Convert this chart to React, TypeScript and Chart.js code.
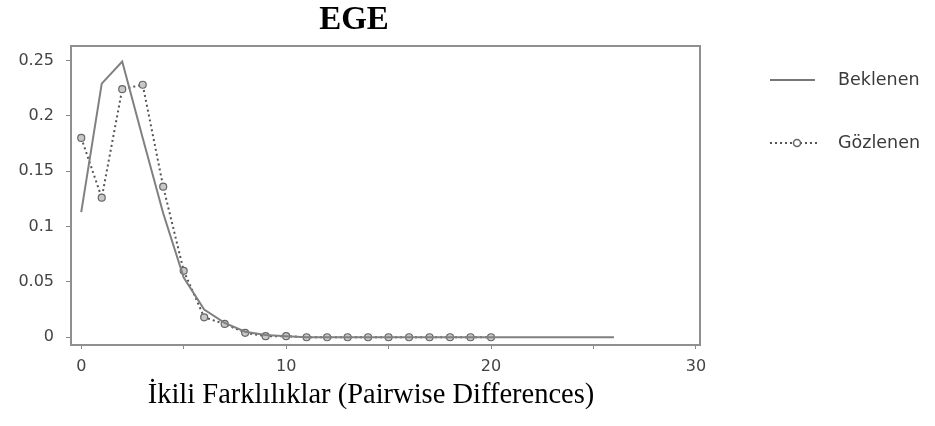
import React, { useEffect, useRef } from "react";
import { Chart, registerables } from "chart.js";

Chart.register(...registerables);

const titleText = "EGE";
const xAxisTitle = "İkili Farklılıklar (Pairwise Differences)";
const seriesNames = ["Beklenen", "Gözlenen"];

const expectedX = [0, 1, 2, 3, 4, 5, 6, 7, 8, 9, 10, 11, 12, 13, 14, 15, 16, 17, 18, 19, 20, 21, 22, 23, 24, 25, 26];
const expectedY = [0.113, 0.229, 0.249, 0.18, 0.112, 0.054, 0.025, 0.013, 0.005, 0.002, 0.001, 0, 0, 0, 0, 0, 0, 0, 0, 0, 0, 0, 0, 0, 0, 0, 0];

const observedX = [0, 1, 2, 3, 4, 5, 6, 7, 8, 9, 10, 11, 12, 13, 14, 15, 16, 17, 18, 19, 20];
const observedY = [0.18, 0.126, 0.224, 0.228, 0.136, 0.06, 0.018, 0.012, 0.004, 0.001, 0.001, 0, 0, 0, 0, 0, 0, 0, 0, 0, 0];

const xTickValues = [0, 5, 10, 15, 20, 25, 30];
const xTickLabels = ["0", "", "10", "", "20", "", "30"];
const yTickValues = [0, 0.05, 0.1, 0.15, 0.2, 0.25];
const yTickLabels = ["0", "0.05", "0.1", "0.15", "0.2", "0.25"];

const tickFont = { size: 16, family: "'DejaVu Sans', sans-serif" };

const decorPlugin = {
  id: "decor",
  afterDraw(chart: any) {
    const ctx = chart.ctx;
    const a = chart.chartArea;
    ctx.save();
    // frame
    ctx.strokeStyle = "#8f8f8f";
    ctx.lineWidth = 2;
    ctx.strokeRect(a.left, a.top, a.right - a.left, a.bottom - a.top);
    // title
    ctx.fillStyle = "#000";
    ctx.textAlign = "center";
    ctx.textBaseline = "alphabetic";
    ctx.font = "bold 33px 'Liberation Serif', serif";
    ctx.fillText(titleText, 354, 29);
    ctx.font = "28.5px 'Liberation Serif', serif";
    ctx.fillText(xAxisTitle, 371, 403);
    // legend
    ctx.textAlign = "left";
    ctx.textBaseline = "middle";
    ctx.font = "17.5px 'DejaVu Sans', sans-serif";
    ctx.fillStyle = "#3a3a3a";
    ctx.strokeStyle = "#777";
    ctx.lineWidth = 2;
    ctx.beginPath();
    ctx.moveTo(770, 80);
    ctx.lineTo(815, 80);
    ctx.stroke();
    ctx.fillText(seriesNames[0], 838, 80);
    ctx.setLineDash([2, 3]);
    ctx.strokeStyle = "#555";
    ctx.beginPath();
    ctx.moveTo(770, 143);
    ctx.lineTo(820, 143);
    ctx.stroke();
    ctx.setLineDash([]);
    ctx.beginPath();
    ctx.arc(797, 143, 3.5, 0, Math.PI * 2);
    ctx.fillStyle = "#fff";
    ctx.fill();
    ctx.strokeStyle = "#666";
    ctx.lineWidth = 1.5;
    ctx.stroke();
    ctx.fillStyle = "#3a3a3a";
    ctx.fillText(seriesNames[1], 838, 143);
    ctx.restore();
  },
};

export default function App() {
  const ref = useRef<HTMLCanvasElement | null>(null);
  useEffect(() => {
    document.body.style.margin = "0";
    const canvas = ref.current!;
    const chart = new Chart(canvas, {
      type: "line",
      data: {
        datasets: [
          {
            label: seriesNames[0],
            data: expectedX.map((x, i) => ({ x, y: expectedY[i] })),
            borderColor: "#808080",
            borderWidth: 2,
            pointRadius: 0,
            tension: 0,
          },
          {
            label: seriesNames[1],
            data: observedX.map((x, i) => ({ x, y: observedY[i] })),
            borderColor: "#555",
            borderWidth: 2,
            borderDash: [2, 3],
            pointRadius: 3.5,
            pointBackgroundColor: "#c8c8c8",
            pointBorderColor: "#666",
            pointBorderWidth: 1.2,
            tension: 0,
          },
        ],
      },
      options: {
        responsive: false,
        animation: false,
        devicePixelRatio: 1,
        layout: { padding: { left: 0, right: 235, top: 46, bottom: 0 } },
        plugins: {
          legend: { display: false },
          title: { display: false },
          tooltip: { enabled: false },
        },
        scales: {
          x: {
            type: "linear",
            min: -0.5,
            max: 30.2,
            grid: { display: true, drawOnChartArea: false, tickLength: 4, color: "#888" },
            border: { display: false },
            afterBuildTicks: (s: any) => {
              s.ticks = xTickValues.map((v) => ({ value: v }));
            },
            afterFit: (s: any) => {
              s.height = 81;
            },
            ticks: {
              padding: 8,
              maxRotation: 0,
              autoSkip: false,
              color: "#444",
              font: tickFont,
              callback: (v: any) => {
                const i = xTickValues.indexOf(Number(v));
                return i >= 0 ? xTickLabels[i] : "";
              },
            },
          },
          y: {
            type: "linear",
            min: -0.007,
            max: 0.263,
            grid: { display: true, drawOnChartArea: false, tickLength: 5, color: "#888" },
            border: { display: false },
            afterBuildTicks: (s: any) => {
              s.ticks = yTickValues.map((v) => ({ value: v }));
            },
            afterFit: (s: any) => {
              s.width = 71;
            },
            ticks: {
              padding: 12,
              autoSkip: false,
              color: "#444",
              font: tickFont,
              callback: (v: any) => {
                const i = yTickValues.findIndex((t) => Math.abs(t - Number(v)) < 1e-9);
                return i >= 0 ? yTickLabels[i] : "";
              },
            },
          },
        },
      },
      plugins: [decorPlugin],
    } as any);
    return () => chart.destroy();
  }, []);
  return (
    <div style={{ width: 935, height: 426, background: "#fff" }}>
      <canvas ref={ref} width={935} height={426} />
    </div>
  );
}
